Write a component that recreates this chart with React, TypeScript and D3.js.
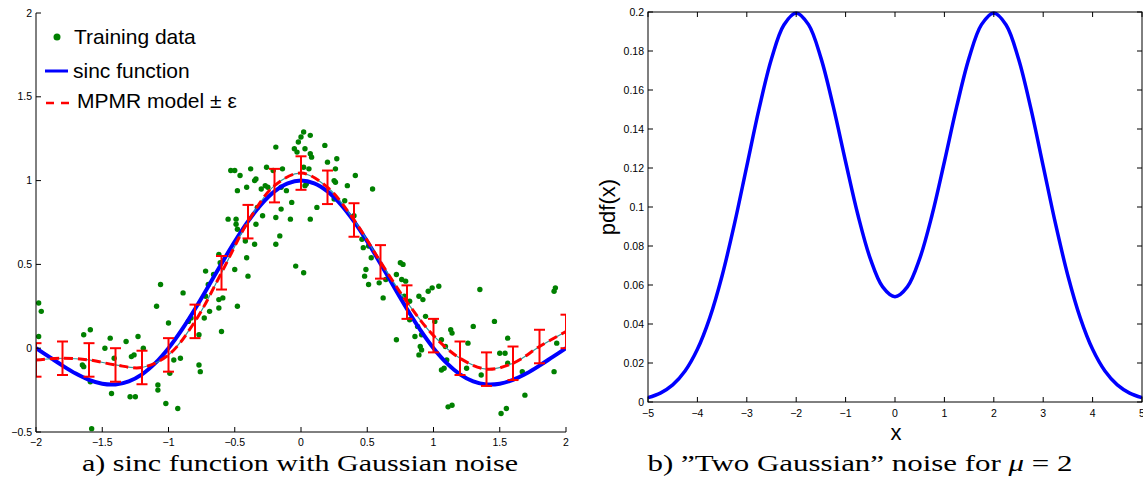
import React from 'react';
import * as d3 from 'd3';

// ---------- Panel a data ----------
const trainingData: [number, number][] = [
  [0.02, 1.29], [0.07, 1.27], [0.0, 1.26], [-0.02, 1.23], [-0.19, 1.2], [-0.05, 1.19], [-0.03, 1.17],
  [0.03, 1.19], [0.18, 1.21], [0.07, 1.16], [0.08, 1.14], [0.2, 1.11], [0.27, 1.13], [-0.53, 1.06],
  [-0.5, 1.06], [-0.46, 1.03], [-0.38, 1.07], [-0.26, 1.08], [-0.21, 1.06], [-0.14, 1.07], [0.02, 1.08],
  [0.06, 1.07], [0.26, 1.07], [-0.34, 1.01], [-0.35, 1.0], [-0.41, 0.96], [-0.48, 0.94], [-0.3, 0.95],
  [-0.27, 0.97], [-0.25, 0.96], [-0.15, 0.96], [-0.11, 0.94], [0.03, 0.97], [0.04, 0.98], [0.25, 1.0],
  [0.26, 0.99], [0.35, 0.97], [0.41, 1.03], [0.54, 0.95], [-0.07, 0.87], [-0.15, 0.83], [0.12, 0.84],
  [0.33, 0.88], [0.25, 0.89], [-0.19, 0.78], [-0.08, 0.77], [-0.55, 0.77], [-0.49, 0.77], [-0.49, 0.74],
  [-0.48, 0.71], [-0.34, 0.74], [-0.29, 0.79], [-0.33, 0.84], [-0.42, 0.64], [-0.35, 0.62], [-0.19, 0.62],
  [-0.16, 0.67], [-0.41, 0.54], [-0.62, 0.56], [-1.98, 0.27], [-1.96, 0.22], [-1.98, 0.07], [-1.64, 0.08],
  [-1.59, 0.11], [-1.65, -0.1], [-1.64, -0.11], [-1.59, -0.2], [-1.58, -0.48], [-1.48, 0.0], [-1.44, 0.06],
  [-1.41, -0.06], [-1.43, -0.27], [-1.32, 0.04], [-1.29, -0.29], [-1.25, -0.29], [-1.28, -0.05], [-1.26, -0.04],
  [-1.23, 0.07], [-1.19, 0.0], [-1.08, -0.22], [-1.08, -0.25], [-1.02, -0.33], [-0.93, -0.36], [-0.99, -0.15],
  [-0.96, -0.07], [-0.91, -0.06], [-1.09, 0.25], [-1.06, 0.38], [-1.0, 0.15], [-0.89, 0.33], [-0.85, 0.16],
  [-0.83, 0.18], [-0.77, -0.1], [-0.76, -0.14], [-0.77, 0.08], [-0.73, 0.18], [-0.72, 0.31], [-0.69, 0.22],
  [-0.7, 0.38], [-0.72, 0.46], [-0.66, 0.44], [-0.62, 0.29], [-0.6, 0.1], [-0.62, 0.24], [-0.59, 0.3],
  [-0.61, 0.51], [-0.5, 0.47], [-0.4, 0.43], [-0.48, 0.25], [-0.04, 0.49], [0.02, 0.45], [0.49, 0.47],
  [0.48, 0.43], [0.51, 0.38], [0.59, 0.39], [0.62, 0.3], [0.64, 0.41], [0.72, 0.44], [0.72, 0.05],
  [0.75, 0.51], [0.77, 0.5], [0.76, 0.41], [0.79, 0.4], [0.78, 0.31], [0.82, 0.28], [0.82, 0.17],
  [0.86, 0.07], [0.89, 0.31], [0.92, 0.29], [0.88, 0.13], [0.91, 0.08], [0.9, 0.01], [0.91, -0.01],
  [0.89, -0.04], [0.94, 0.19], [0.96, 0.34], [0.99, 0.36], [1.04, 0.37], [1.01, 0.16], [1.06, 0.05],
  [1.09, 0.01], [1.1, -0.07], [1.06, -0.13], [1.08, -0.12], [1.11, -0.35], [1.14, -0.34], [1.13, 0.11],
  [1.14, 0.09], [1.25, -0.12], [1.26, 0.03], [1.3, 0.13], [1.35, 0.35], [1.36, -0.16], [1.46, 0.16],
  [1.5, -0.03], [1.54, -0.03], [1.56, 0.06], [1.56, -0.09], [1.51, -0.39], [1.55, -0.36], [1.67, -0.14],
  [1.69, -0.28], [1.91, 0.34], [1.92, 0.36], [1.93, 0.03], [1.91, -0.14], [0.07, 0.77], [0.4, 0.79],
  [0.46, 0.65], [0.47, 0.6], [0.51, 0.61], [0.53, 0.54],
];

const sincX = [
  -2, -1.9, -1.8, -1.7, -1.6, -1.5, -1.4, -1.3, -1.2, -1.1, -1, -0.9, -0.8, -0.7, -0.6, -0.5, -0.4, -0.3,
  -0.2, -0.1, 0, 0.1, 0.2, 0.3, 0.4, 0.5, 0.6, 0.7, 0.8, 0.9, 1, 1.1, 1.2, 1.3, 1.4, 1.5, 1.6, 1.7, 1.8,
  1.9, 2,
];
const sincY = [
  0, -0.0518, -0.1039, -0.1515, -0.1892, -0.2122, -0.2162, -0.1981, -0.1559, -0.0894, 0, 0.1093, 0.2339,
  0.3679, 0.5046, 0.6366, 0.7568, 0.8584, 0.9355, 0.9836, 1, 0.9836, 0.9355, 0.8584, 0.7568, 0.6366,
  0.5046, 0.3679, 0.2339, 0.1093, 0, -0.0894, -0.1559, -0.1981, -0.2162, -0.2122, -0.1892, -0.1515,
  -0.1039, -0.0518, 0,
];

const modelX = [-2, -1.8, -1.6, -1.4, -1.2, -1, -0.8, -0.6, -0.4, -0.2, 0, 0.2, 0.4, 0.6, 0.8, 1, 1.2, 1.4, 1.6, 1.8, 2];
const modelY = [
  -0.07, -0.06, -0.07, -0.1, -0.115, -0.04, 0.16, 0.45, 0.755, 0.97, 1.045, 0.96, 0.765, 0.515, 0.275,
  0.075, -0.06, -0.125, -0.09, 0.01, 0.1,
];
const epsilon = 0.1;

const leftXTicks = [-2, -1.5, -1, -0.5, 0, 0.5, 1, 1.5, 2];
const leftXLabels = ['\u22122', '\u22121.5', '\u22121', '\u22120.5', '0', '0.5', '1', '1.5', '2'];
const leftYTicks = [-0.5, 0, 0.5, 1, 1.5, 2];
const leftYLabels = ['\u22120.5', '0', '0.5', '1', '1.5', '2'];

// ---------- Panel b data ----------
const pdfX = [
  -5, -4.75, -4.5, -4.25, -4, -3.75, -3.5, -3.25, -3, -2.75, -2.5, -2.25, -2, -1.75, -1.5, -1.25, -1, -0.75,
  -0.5, -0.25, 0, 0.25, 0.5, 0.75, 1, 1.25, 1.5, 1.75, 2, 2.25, 2.5, 2.75, 3, 3.25, 3.5, 3.75, 4, 4.25, 4.5,
  4.75, 5,
];
const pdfY = [
  0.00222, 0.00455, 0.00876, 0.01587, 0.027, 0.04314, 0.06476, 0.09132, 0.12099, 0.15057, 0.17604, 0.19336,
  0.19954, 0.19351, 0.17647, 0.15158, 0.1232, 0.09587, 0.07352, 0.05901, 0.05399, 0.05901, 0.07352, 0.09587,
  0.1232, 0.15158, 0.17647, 0.19351, 0.19954, 0.19336, 0.17604, 0.15057, 0.12099, 0.09132, 0.06476, 0.04314,
  0.027, 0.01587, 0.00876, 0.00455, 0.00222,
];
const rightXTicks = [-5, -4, -3, -2, -1, 0, 1, 2, 3, 4, 5];
const rightXLabels = ['\u22125', '\u22124', '\u22123', '\u22122', '\u22121', '0', '1', '2', '3', '4', '5'];
const rightYTicks = [0, 0.02, 0.04, 0.06, 0.08, 0.1, 0.12, 0.14, 0.16, 0.18, 0.2];
const rightYLabels = ['0', '0.02', '0.04', '0.06', '0.08', '0.1', '0.12', '0.14', '0.16', '0.18', '0.2'];

const SANS = '"Liberation Sans", Arial, Helvetica, sans-serif';
const SERIF = '"Liberation Serif", "Times New Roman", serif';

export default function App() {
  // panel a scales
  const xa = d3.scaleLinear().domain([-2, 2]).range([36, 566]);
  const ya = d3.scaleLinear().domain([-0.5, 2]).range([432, 13]);
  // panel b scales
  const xb = d3.scaleLinear().domain([-5, 5]).range([648, 1142]);
  const yb = d3.scaleLinear().domain([0, 0.2]).range([402, 12]);

  const sincPts = sincX.map((x, i) => [x, sincY[i]] as [number, number]);
  const modelPts = modelX.map((x, i) => [x, modelY[i]] as [number, number]);
  const pdfPts = pdfX.map((x, i) => [x, pdfY[i]] as [number, number]);

  const lineA = d3
    .line<[number, number]>()
    .x((d) => xa(d[0]))
    .y((d) => ya(d[1]))
    .curve(d3.curveCatmullRom.alpha(0.5));
  const lineB = d3
    .line<[number, number]>()
    .x((d) => xb(d[0]))
    .y((d) => yb(d[1]))
    .curve(d3.curveCatmullRom.alpha(0.5));

  const tickLen = 5;
  const capHalf = 5.5;

  return (
    <svg
      width={1143}
      height={489}
      viewBox="0 0 1143 489"
      style={{ position: 'absolute', left: 0, top: 0, background: '#fff' }}
    >
      <defs>
        <clipPath id="clipA">
          <rect x={36} y={13} width={530} height={419} />
        </clipPath>
      </defs>

      {/* ---------- Panel a ---------- */}
      <g clipPath="url(#clipA)">
        {trainingData.map((d, i) => (
          <circle key={i} cx={xa(d[0])} cy={ya(d[1])} r={2.7} fill="#008000" />
        ))}
        <path d={lineA(sincPts) || ''} fill="none" stroke="#0000ff" strokeWidth={4} />
        <path d={lineA(modelPts) || ''} fill="none" stroke="#339999" strokeWidth={1.2} />
        <path
          d={lineA(modelPts) || ''}
          fill="none"
          stroke="#ff0000"
          strokeWidth={3}
          strokeDasharray="9,5"
        />
        {modelPts.map((d, i) => {
          const cx = xa(d[0]);
          const t = ya(d[1] + epsilon);
          const b = ya(d[1] - epsilon);
          return (
            <g key={i} stroke="#ff0000" strokeWidth={2}>
              <line x1={cx} x2={cx} y1={t} y2={b} />
              <line x1={cx - capHalf} x2={cx + capHalf} y1={t} y2={t} />
              <line x1={cx - capHalf} x2={cx + capHalf} y1={b} y2={b} />
            </g>
          );
        })}
      </g>

      {/* axes a */}
      <g stroke="#000" strokeWidth={1} fill="none">
        <line x1={36} x2={36} y1={13} y2={432} />
        <line x1={36} x2={566} y1={432} y2={432} />
        {leftYTicks.map((t, i) => (
          <line key={'ya' + i} x1={36} x2={36 + tickLen} y1={ya(t)} y2={ya(t)} />
        ))}
        {leftXTicks.map((t, i) => (
          <line key={'xa' + i} x1={xa(t)} x2={xa(t)} y1={432} y2={432 - tickLen} />
        ))}
      </g>
      <g fontFamily={SANS} fontSize={10.5} fill="#000">
        {leftYTicks.map((t, i) => (
          <text key={'yl' + i} x={32} y={ya(t)} dy="0.35em" textAnchor="end">
            {leftYLabels[i]}
          </text>
        ))}
        {leftXTicks.map((t, i) => (
          <text key={'xl' + i} x={xa(t)} y={446} textAnchor="middle">
            {leftXLabels[i]}
          </text>
        ))}
      </g>

      {/* legend a */}
      <g fontFamily={SANS} fontSize={21} fill="#000">
        <circle cx={57} cy={37} r={3.5} fill="#008000" />
        <text x={74} y={44}>Training data</text>
        <line x1={45} x2={68} y1={71} y2={71} stroke="#0000ff" strokeWidth={3} />
        <text x={73} y={78}>sinc function</text>
        <line x1={46} x2={70} y1={103} y2={103} stroke="#ff0000" strokeWidth={2.5} strokeDasharray="8,7" />
        <text x={77} y={108}>MPMR model ± ε</text>
      </g>

      {/* ---------- Panel b ---------- */}
      <path d={lineB(pdfPts) || ''} fill="none" stroke="#0000ff" strokeWidth={3.5} />
      <g stroke="#000" strokeWidth={1} fill="none">
        <rect x={648} y={12} width={494} height={390} />
        {rightXTicks.map((t, i) => (
          <g key={'xbt' + i}>
            <line x1={xb(t)} x2={xb(t)} y1={402} y2={402 - tickLen} />
            <line x1={xb(t)} x2={xb(t)} y1={12} y2={12 + tickLen} />
          </g>
        ))}
        {rightYTicks.map((t, i) => (
          <g key={'ybt' + i}>
            <line x1={648} x2={648 + tickLen} y1={yb(t)} y2={yb(t)} />
            <line x1={1142} x2={1142 - tickLen} y1={yb(t)} y2={yb(t)} />
          </g>
        ))}
      </g>
      <g fontFamily={SANS} fontSize={10.5} fill="#000">
        {rightYTicks.map((t, i) => (
          <text key={'ybl' + i} x={644} y={yb(t)} dy="0.35em" textAnchor="end">
            {rightYLabels[i]}
          </text>
        ))}
        {rightXTicks.map((t, i) => (
          <text key={'xbl' + i} x={xb(t)} y={417} textAnchor="middle">
            {rightXLabels[i]}
          </text>
        ))}
      </g>
      <text
        fontFamily={SANS}
        fontSize={22}
        textAnchor="middle"
        transform="translate(615,207) rotate(-90)"
      >
        pdf(x)
      </text>
      <text fontFamily={SANS} fontSize={22} x={896} y={440} textAnchor="middle">
        x
      </text>

      {/* captions */}
      <g fontFamily={SERIF} fontSize={23} fill="#000">
        <text x={300} y={471} textAnchor="middle" textLength={436} lengthAdjust="spacingAndGlyphs">
          a) sinc function with Gaussian noise
        </text>
        <text x={860} y={471} textAnchor="middle" textLength={425} lengthAdjust="spacingAndGlyphs">
          b) ”Two Gaussian” noise for <tspan fontStyle="italic">μ</tspan> = 2
        </text>
      </g>
    </svg>
  );
}
